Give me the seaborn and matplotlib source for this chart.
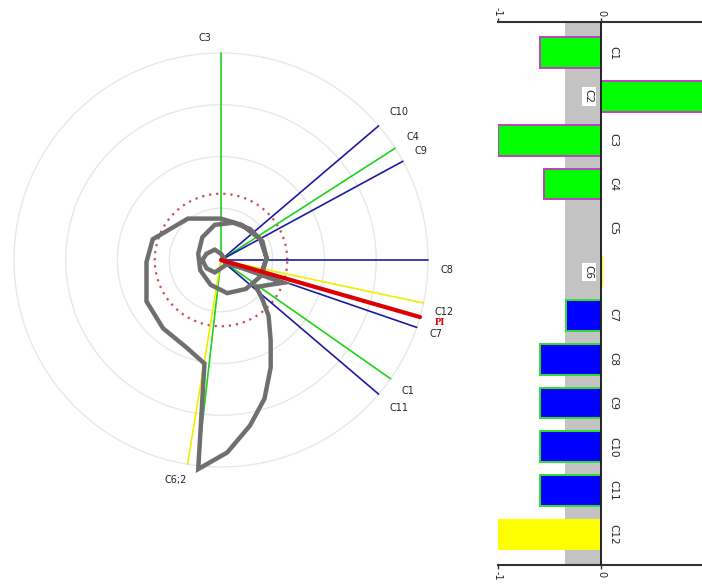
import numpy as np
import pandas as pd
import matplotlib
matplotlib.use("Agg")
import matplotlib.pyplot as plt
import seaborn as sns

sns.set_theme(style="white")
plt.rcParams["font.family"] = ["DejaVu Sans"]

# ---- bar panel data ----
categories = ["C1", "C2", "C3", "C4", "C5", "C6", "C7", "C8", "C9", "C10", "C11", "C12"]
bar_values = [-0.59, 1.0, -1.0, -0.55, 0.0, 0.02, -0.34, -0.59, -0.59, -0.59, -0.59, -1.0]
bar_groups = ["g", "g", "g", "g", "g", "y", "b", "b", "b", "b", "b", "y"]
band_range = (-0.35, 0.0)
axis_ticks = [-1, 0, 1]
axis_ticklabels = ["-1", "0", "1"]

# ---- polar panel data ----
ray_names = ["C3", "C10", "C4", "C9", "C8", "C12", "C7", "C1", "C11", "C2", "C6"]
ray_angles = [90.0, 40.4, 32.7, 28.5, 0.0, -12.0, -19.0, -35.0, -40.4, -96.5, -99.3]
ray_lengths = [1.0] * len(ray_names)
ray_groups = ["g", "b", "g", "b", "b", "y", "b", "g", "b", "g", "y"]
pi_angle = -16.0
pi_length = 1.0
label_names = ["C3", "C10", "C4", "C9", "C8", "C12", "PI", "C7", "C1", "C11", "C6;2"]
label_angles = [90.0, 40.4, 32.7, 28.5, 0.0, -12.0, -16.0, -19.0, -35.0, -40.4, -99.3]
threshold_radius = 0.32
grid_radii = [0.25, 0.5, 0.75, 1.0]

# locus (real / imaginary parts)
locus_re = [0.02, 0.02, 0.00, -0.03, -0.07, -0.09, -0.07, -0.03, 0.00, 0.03,
            0.20, 0.22, 0.20, 0.14, 0.06, -0.03, -0.09, -0.11, -0.10, -0.05,
            0.03, 0.12, 0.19, 0.22, 0.19, 0.10, 0.00,
            -0.16, -0.33, -0.36, -0.36, -0.28, -0.17, -0.08, -0.11,
            0.03, 0.14, 0.21, 0.24, 0.24, 0.23, 0.20, 0.17, 0.30, 0.02]
locus_im = [-0.01, 0.00, 0.03, 0.05, 0.03, 0.00, -0.04, -0.06, -0.04, -0.02,
            -0.06, 0.01, 0.09, 0.15, 0.18, 0.17, 0.11, 0.03, -0.05, -0.12,
            -0.16, -0.14, -0.08, 0.01, 0.10, 0.17, 0.20,
            0.20, 0.10, -0.01, -0.20, -0.33, -0.42, -0.50, -1.01,
            -0.93, -0.80, -0.67, -0.52, -0.39, -0.27, -0.19, -0.13, -0.11, -0.01]

line_colors = {"g": "#1ed21e", "b": "#1c1ca0", "y": "#eeee00"}
fill_colors = {"g": "#00ff00", "b": "#0000ff", "y": "#ffff00"}
edge_colors = {"g": "#c040c0", "b": "#30e030", "y": "none"}

W, H = 702, 584
fig = plt.figure(figsize=(W / 100, H / 100), dpi=100)

# ---------------- polar panel ----------------
cx, cy, unit_px = 221, 260, 207
rmax = 1.15
half = rmax * unit_px
axp = fig.add_axes([(cx - half) / W, (H - cy - half) / H, 2 * half / W, 2 * half / H],
                   projection="polar")
axp.set_ylim(0, rmax)
axp.set_xticks([])
axp.set_yticks(grid_radii)
axp.set_yticklabels([])
axp.grid(True, color="#e8e8e8", lw=1.0)
axp.spines["polar"].set_visible(False)
axp.set_facecolor("white")

circ = np.linspace(0, 2 * np.pi, 240)
axp.plot(circ, np.full_like(circ, threshold_radius), color="#c85050",
         lw=1.6, ls=(0, (1, 2.2)), zorder=2)

for name, ang, length, grp in zip(ray_names, ray_angles, ray_lengths, ray_groups):
    t = np.deg2rad(ang)
    axp.plot([t, t], [0, length], color=line_colors[grp], lw=1.2, zorder=2)

theta = np.arctan2(locus_im, locus_re)
radius = np.hypot(locus_re, locus_im)
axp.plot(theta, radius, color="#6f6f6f", lw=3.2, solid_joinstyle="miter", zorder=3)

tp = np.deg2rad(pi_angle)
axp.plot([tp, tp], [0, pi_length], color="#dd0000", lw=3.0, zorder=4)

nudges = {"C3": (-16, -6), "C8": (-2, -10), "C12": (0, -5), "C10": (5, 0),
          "C11": (5, 0), "C6;2": (-9, 5), "PI": (0, 0), "C7": (0, 0)}
for name, ang in zip(label_names, label_angles):
    dx, dy = nudges.get(name, (0, 0))
    kw = dict(fontsize=7, color="#222222")
    if name == "PI":
        kw = dict(fontsize=7.5, color="#dd0000", fontweight="bold",
                  family=["Liberation Serif"])
    axp.annotate(name, xy=(np.deg2rad(ang), 1.1), xytext=(dx * 0.72, dy * 0.72),
                 textcoords="offset points", ha="center", va="center",
                 annotation_clip=False, zorder=5, **kw)

# ---------------- bar panel ----------------
x0_px, x1_px = 498, 704
top_px, bot_px = 22, 565
axb = fig.add_axes([x0_px / W, (H - bot_px) / H, (x1_px - x0_px) / W, (bot_px - top_px) / H])

df = pd.DataFrame({"category": categories, "value": bar_values})
palette = {c: fill_colors[g] for c, g in zip(categories, bar_groups)}
sns.barplot(data=df, x="value", y="category", hue="category", palette=palette,
            legend=False, width=0.7, saturation=1, orient="h", ax=axb, zorder=2)
bars = [p for cont in axb.containers for p in cont]
for patch, grp, val in zip(bars, bar_groups, bar_values):
    ec = edge_colors[grp]
    if ec == "none" or val == 0:
        patch.set_linewidth(0)
    else:
        patch.set_edgecolor(ec)
        patch.set_linewidth(1.4)

axb.axvspan(*band_range, facecolor="#c3c3c3", edgecolor="none", lw=0, zorder=0)
axb.axvline(0, color="#222222", lw=1.4, zorder=3)
axb.set_xlim(-1, 1)
axb.set_ylim(len(categories) - 0.3, -0.7)
axb.set_xlabel("")
axb.set_ylabel("")
axb.set_yticks([])
axb.set_xticks(axis_ticks)
axb.set_xticklabels(axis_ticklabels)
axb.tick_params(axis="x", top=True, labeltop=True, bottom=True, labelbottom=True,
                labelrotation=-90, labelsize=7, length=3, width=1, pad=1,
                color="#333333")
for side in ("left", "right"):
    axb.spines[side].set_visible(False)
for side in ("top", "bottom"):
    axb.spines[side].set_color("#333333")
    axb.spines[side].set_linewidth(1.5)
axb.set_facecolor("white")

for i, (cat, val) in enumerate(zip(categories, bar_values)):
    if val > 0:
        axb.text(-0.12, i, cat, rotation=-90, ha="center", va="center", fontsize=7.5,
                 color="#222222", zorder=4,
                 bbox=dict(facecolor="white", edgecolor="none", pad=1.5))
    else:
        axb.text(0.12, i, cat, rotation=-90, ha="center", va="center", fontsize=7.5,
                 color="#222222", zorder=4)

fig.savefig("out.png", dpi=100, facecolor="white")
